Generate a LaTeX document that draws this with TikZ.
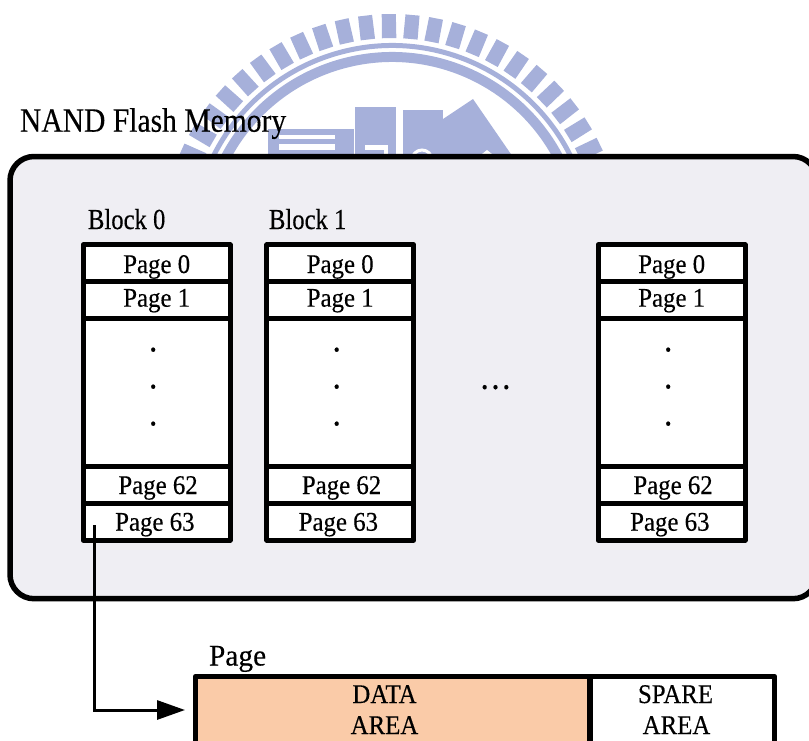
\documentclass[tikz,border=0pt]{standalone}
\usepackage{fontspec}
\setmainfont{Liberation Serif}
\newfontfamily\heavyserif[FakeBold=0.3]{Liberation Serif}
\usetikzlibrary{arrows.meta,calc}
\definecolor{logo}{HTML}{A6B0DA}
\definecolor{panel}{HTML}{EFEEF3}
\definecolor{dataorange}{HTML}{FACBA8}
\newcommand{\pg}[1]{{\heavyserif\fontsize{27}{27}\selectfont\scalebox{0.92}[1]{#1}}}
\newcommand{\cellt}[2]{\raisebox{-#1pt}[0pt][0pt]{\pg{#2}}}
\newcommand{\blk}[1]{{\heavyserif\fontsize{29}{29}\selectfont\scalebox{0.85}[1]{#1}}}
\newcommand{\ttl}[1]{{\heavyserif\fontsize{34}{34}\selectfont\scalebox{0.87}[1]{#1}}}
\tikzset{
  cellbox/.style={draw=black,line width=5pt,fill=white,inner sep=0pt,outer sep=0pt,minimum width=147pt,line join=round},
  plain/.style={inner sep=0pt,outer sep=0pt},
  pagebox/.style={plain,draw=black,line width=5.5pt,minimum height=67pt,line join=round},
}
\begin{document}
\begin{tikzpicture}[x=1pt,y=-1pt]
\useasboundingbox (0,0) rectangle (809,740);
% watermark
\begin{scope}[shift={(392,245)}]
  \foreach \k in {-12,...,12}{
    \pgfmathsetmacro{\a}{90.8+5.9*\k}
    \fill[logo] (\a-2:207pt) -- (\a-1.75:231pt) -- (\a+1.75:231pt) -- (\a+2:207pt) -- cycle;
  }
  \draw[logo,line width=5pt] (15:199.5pt) arc[start angle=15,end angle=165,radius=199.5pt];
  \draw[logo,line width=10pt] (15:188pt) arc[start angle=15,end angle=165,radius=188pt];
\end{scope}
\fill[logo] (355,107) rectangle (396,160);
\fill[logo] (403,110) rectangle (443,160);
\fill[logo] (443,119) -- (473,99) -- (515,160) -- (443,160) -- cycle;
\fill[logo] (268,129) rectangle (354,160);
\fill[white] (279,135) rectangle (335,139);
\fill[white] (279,144) rectangle (335,150);
\fill[white] (365,145) rectangle (388,160);
\fill[logo] (365,150) rectangle (384,160);
\draw[white,line width=3pt] (412,160) arc[start angle=180,end angle=0,radius=10pt];
\fill[white] (477,158) -- (487,150) -- (497,158) -- cycle;
% panel
\node[plain,draw=black,line width=5.5pt,rounded corners=24pt,fill=panel,minimum width=807pt,minimum height=442.2pt] (panel) at (413.5,377.6) {};
\node[plain,anchor=base west] (title) at (20,131.7) {\ttl{NAND Flash Memory}};
\node[plain,anchor=base west] (blocka) at (88,229) {\blk{Block 0}};
\node[plain,anchor=base west] (blockb) at (269,229) {\blk{Block 1}};
% blocks
\foreach \n/\cx in {0/156.7,1/340.2,2/671.7}{
  \node[cellbox,minimum height=36.7pt] (b\n p0) at (\cx,263.3) {\cellt{9.7}{Page 0}};
  \node[cellbox,minimum height=36.6pt] (b\n p1) at (\cx,300) {\cellt{6.7}{Page 1}};
  \node[cellbox,minimum height=148.4pt] (b\n mid) at (\cx,392.5) {};
  \node[cellbox,minimum height=36.6pt] (b\n p62) at (\cx,485) {\cellt{9}{\hspace*{3pt}Page 62}};
  \node[cellbox,minimum height=36.7pt] (b\n p63) at (\cx,521.7) {\cellt{9}{Page 63\hspace*{4pt}}};
  \foreach \yy in {351.5,388.5,425.5}{
    \node[plain,anchor=base] at ($(b\n mid.north)+(-3.5,\yy-318.3)$) {\pg{\bfseries .}};
  }
}
\node[plain,anchor=base] (more) at (495.5,389) {\pg{\bfseries .\kern5pt.\kern5pt.}};
% page
\node[plain,anchor=base west] (pagelabel) at (209,665.5) {{\heavyserif\fontsize{30}{30}\selectfont\scalebox{0.98}[1]{Page}}};
\node[pagebox,fill=dataorange,minimum width=394.5pt] (data) at (392.75,710) {};
\node[pagebox,fill=white,minimum width=184.7pt] (spare) at (682.35,710) {};
\node[plain,anchor=base] (datat) at (384.5,703) {\pg{DATA}};
\node[plain,anchor=base] (areat) at (384.5,734) {\pg{AREA}};
\node[plain,anchor=base] (sparet) at (675.5,703) {\pg{SPARE}};
\node[plain,anchor=base] (areab) at (676.5,734) {\pg{AREA}};
% connector
\coordinate (from) at (94,525);
\draw[line width=3pt,-{Triangle[length=28pt,width=19pt]},shorten >=10.5pt] (from) |- (data.west);
\end{tikzpicture}
\end{document}
